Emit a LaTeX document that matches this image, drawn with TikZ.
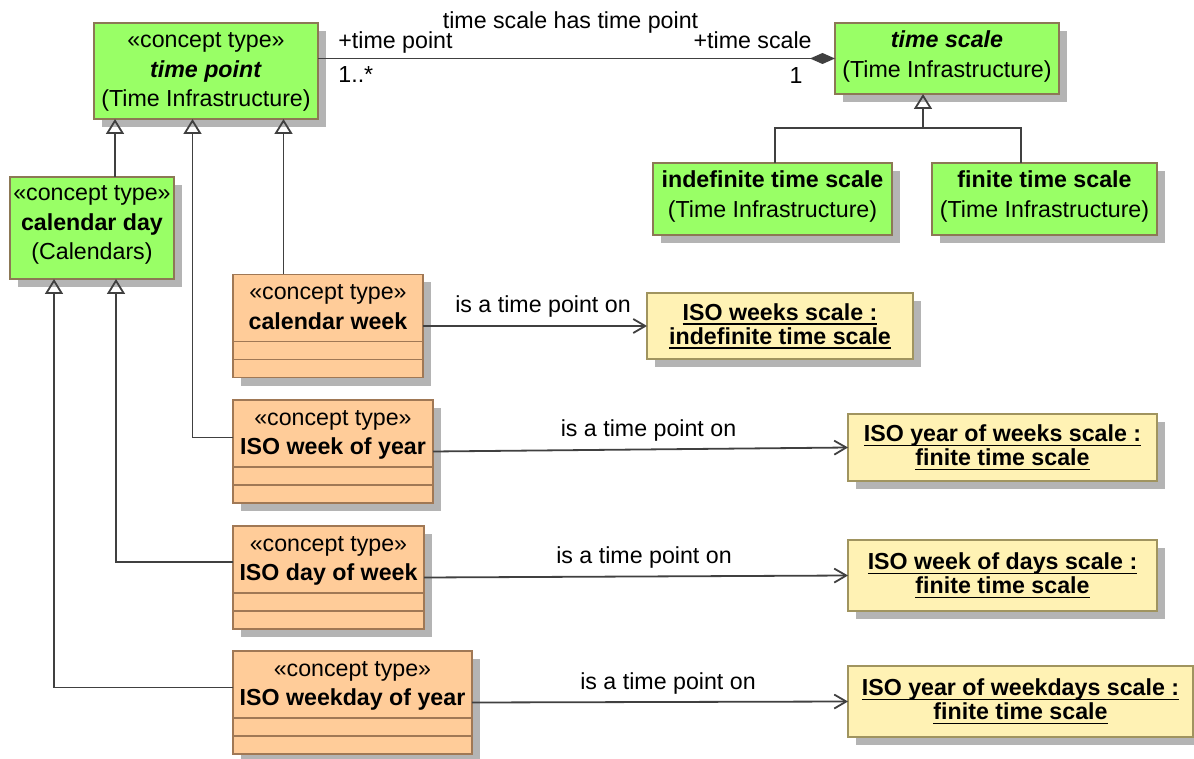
\documentclass[tikz,border=0pt]{standalone}
\usepackage{fontspec}
\setmainfont{Liberation Sans}
\usetikzlibrary{arrows.meta,shadows}

\definecolor{infragreen}{RGB}{153,255,102}
\definecolor{greenedge}{RGB}{140,120,85}
\definecolor{conceptorange}{RGB}{255,204,153}
\definecolor{orangeedge}{RGB}{160,120,85}
\definecolor{instyellow}{RGB}{255,242,180}
\definecolor{yellowedge}{RGB}{160,148,95}
\definecolor{linegray}{RGB}{64,64,64}
\definecolor{shadowgray}{RGB}{180,180,180}

% underlined instance name, line at a fixed depth
\newcommand{\instul}[1]{\setbox0\hbox{#1}\rlap{\rule[-2.4pt]{\wd0}{0.9pt}}\box0}

\begin{document}
\begin{tikzpicture}[
    x=0.5pt, y=-0.5pt,
    font=\fontsize{11.6}{14.75}\selectfont,
    umlshadow/.style={
        drop shadow={shadow xshift=4pt, shadow yshift=-4pt, fill=shadowgray, opacity=1}
    },
    infra/.style={
        draw=greenedge, fill=infragreen, line width=0.9pt,
        align=center, inner sep=0pt, outer sep=0pt, umlshadow
    },
    concept/.style={
        draw=orangeedge, fill=conceptorange, line width=0.9pt,
        align=center, inner sep=0pt, outer sep=0pt,
        text height=27.25pt, text depth=24.25pt, umlshadow
    },
    instance/.style={
        draw=yellowedge, fill=instyellow, line width=0.9pt,
        align=center, inner sep=0pt, outer sep=0pt,
        font=\fontsize{11.6}{12}\selectfont\bfseries, umlshadow
    },
    conn/.style={draw=linegray, line width=0.9pt},
    gen/.style={conn, -{Triangle[open, width=9pt, length=7.5pt]}},
    dep/.style={conn, -{Straight Barb[length=6pt, width=7pt]}},
    comp/.style={conn, -{Diamond[length=12.5pt, width=5.5pt]}},
    lbl/.style={inner sep=0pt}
]
\clip (0,0) rectangle (1194,759);

% time infrastructure
\node[infra, minimum width=112pt, text height=42pt, text depth=6pt] (tp) at (206,71)
    {«concept type»\\\textbf{\textit{time point}}\\(Time Infrastructure)};
\node[infra, minimum width=112pt, text height=27.25pt, text depth=8.25pt] (ts) at (947,58.5)
    {\textbf{\textit{time scale}}\\(Time Infrastructure)};
\node[infra, minimum width=119.5pt, text height=27.25pt, text depth=8.75pt] (ind) at (772.5,199)
    {\textbf{indefinite time scale}\\(Time Infrastructure)};
\node[infra, minimum width=112.5pt, text height=27.25pt, text depth=8.75pt] (fin) at (1044.5,199)
    {\textbf{finite time scale}\\(Time Infrastructure)};
\node[infra, minimum width=82pt, text height=41.5pt, text depth=9.5pt] (cd) at (92,228)
    {«concept type»\\\textbf{calendar day}\\(Calendars)};

% concept types
\node[concept, minimum width=95pt] (cw) at (328,326)
    {«concept type»\\\textbf{calendar week}};
\node[concept, minimum width=100pt] (woy) at (333,451.5)
    {«concept type»\\\textbf{ISO week of year}};
\node[concept, minimum width=95.5pt] (dow) at (328.5,577.5)
    {«concept type»\\\textbf{ISO day of week}};
\node[concept, minimum width=119.5pt] (wdoy) at (352.5,702.5)
    {«concept type»\\\textbf{ISO weekday of year}};

% compartments
\draw[conn, draw=orangeedge] ([yshift=9pt]cw.south west) -- ([yshift=9pt]cw.south east);
\draw[conn, draw=orangeedge] ([yshift=18pt]cw.south west) -- ([yshift=18pt]cw.south east);
\draw[conn, draw=orangeedge] ([yshift=9pt]woy.south west) -- ([yshift=9pt]woy.south east);
\draw[conn, draw=orangeedge] ([yshift=18pt]woy.south west) -- ([yshift=18pt]woy.south east);
\draw[conn, draw=orangeedge] ([yshift=9pt]dow.south west) -- ([yshift=9pt]dow.south east);
\draw[conn, draw=orangeedge] ([yshift=18pt]dow.south west) -- ([yshift=18pt]dow.south east);
\draw[conn, draw=orangeedge] ([yshift=9pt]wdoy.south west) -- ([yshift=9pt]wdoy.south east);
\draw[conn, draw=orangeedge] ([yshift=18pt]wdoy.south west) -- ([yshift=18pt]wdoy.south east);

% scale instances
\node[instance, minimum width=133pt, minimum height=33pt] (weeks) at (780,326)
    {\instul{ISO weeks scale :}\\\instul{indefinite time scale}};
\node[instance, minimum width=154.5pt, minimum height=33.5pt] (yweeks) at (1002.5,447.5)
    {\instul{ISO year of weeks scale :}\\\instul{finite time scale}};
\node[instance, minimum width=154.5pt, minimum height=35.5pt] (wdays) at (1002.5,575.5)
    {\instul{ISO week of days scale :}\\\instul{finite time scale}};
\node[instance, minimum width=172.5pt, minimum height=35.5pt] (ywdays) at (1020.5,701.5)
    {\instul{ISO year of weekdays scale :}\\\instul{finite time scale}};

% generalizations
\coordinate (cdtop) at ([xshift=11.5pt]cd.north);
\coordinate (cwtop) at ([xshift=-22.25pt]cw.north);
\coordinate (tsfork) at ([xshift=-12pt, yshift=-17pt]ts.south);
\draw[gen] (cdtop) -- (cdtop |- tp.south);
\draw[gen] ([yshift=7pt]woy.west) -| ([xshift=-6.75pt]tp.south);
\draw[gen] (cwtop) -- (cwtop |- tp.south);
\draw[gen] ([yshift=7.75pt]dow.west) -| ([xshift=12pt]cd.south);
\draw[gen] ([yshift=7.5pt]wdoy.west) -| ([xshift=-19pt]cd.south);
\draw[gen] (tsfork) -- (tsfork |- ts.south);
\draw[conn] ([xshift=1.25pt]ind.north) |- (tsfork) -| ([xshift=-11.75pt]fin.north);

% association
\coordinate (tpend) at (tp.east |- ts.west);
\draw[comp] (tpend) -- node[lbl, anchor=base, xshift=-3pt, yshift=15pt] (assoc)
    {time scale has time point} (ts.west);
\node[lbl, anchor=base west] (tprole) at ([xshift=10pt, yshift=5pt]tpend) {+time point};
\node[lbl, anchor=base west] (tpmult) at ([xshift=10pt, yshift=-12pt]tpend) {1..*};
\node[lbl, anchor=base east] (tsrole) at ([xshift=-11.5pt, yshift=5pt]ts.west) {+time scale};
\node[lbl, anchor=base east] (tsmult) at ([xshift=-16pt, yshift=-12.5pt]ts.west) {1};

% time point on
\draw[dep] (cw.east) -- node[lbl, anchor=base, xshift=4pt, yshift=6.5pt] (cwlbl)
    {is a time point on} (weeks.west);
\draw[dep] (woy.east) -- node[lbl, anchor=base, xshift=4pt, yshift=6.5pt] (woylbl)
    {is a time point on} (yweeks.west);
\draw[dep] (dow.east) -- node[lbl, anchor=base, xshift=4pt, yshift=6.5pt] (dowlbl)
    {is a time point on} (wdays.west);
\draw[dep] (wdoy.east) -- node[lbl, anchor=base, xshift=4pt, yshift=6.5pt] (wdoylbl)
    {is a time point on} (ywdays.west);

\end{tikzpicture}
\end{document}
